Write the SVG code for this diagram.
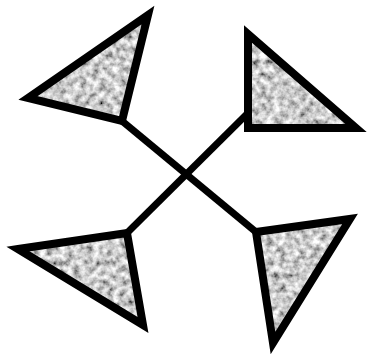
<svg xmlns="http://www.w3.org/2000/svg" width="373" height="355" viewBox="0 0 373 355">
<style>
.tri-fill{fill:#000;filter:url(#granite);}
.tri-edge{fill:none;stroke:#000;stroke-width:8;stroke-linejoin:miter;stroke-miterlimit:6;}
.conn{stroke:#000;stroke-width:7;fill:none;}
</style>
<defs>
<filter id="granite" x="0" y="0" width="100%" height="100%" filterUnits="objectBoundingBox" primitiveUnits="userSpaceOnUse">
<feTurbulence type="fractalNoise" baseFrequency="0.15" numOctaves="3" seed="7" result="n"/>
<feColorMatrix in="n" type="matrix" values="1.5 0 0 0 -0.15  1.5 0 0 0 -0.15  1.5 0 0 0 -0.15  0 0 0 0 1" result="g"/>
<feComposite in="g" in2="SourceGraphic" operator="in"/>
</filter>
</defs>
<rect width="373" height="355" fill="#fff"/>
<g id="connectors">
<line class="conn" x1="122" y1="121" x2="256" y2="232"/>
<line class="conn" x1="249" y1="112" x2="127" y2="233"/>
</g>
<g id="node-tl">
<polygon class="tri-fill" points="28,98 148,15 122,121"/>
<polygon class="tri-edge" points="28,98 148,15 122,121"/>
</g>
<g id="node-tr">
<polygon class="tri-fill" points="248,34 248,128 356,128"/>
<polygon class="tri-edge" points="248,34 248,128 356,128"/>
</g>
<g id="node-bl">
<polygon class="tri-fill" points="18,249 127,233 143,325"/>
<polygon class="tri-edge" points="18,249 127,233 143,325"/>
</g>
<g id="node-br">
<polygon class="tri-fill" points="256,232 350,219 273,343"/>
<polygon class="tri-edge" points="256,232 350,219 273,343"/>
</g>
</svg>
